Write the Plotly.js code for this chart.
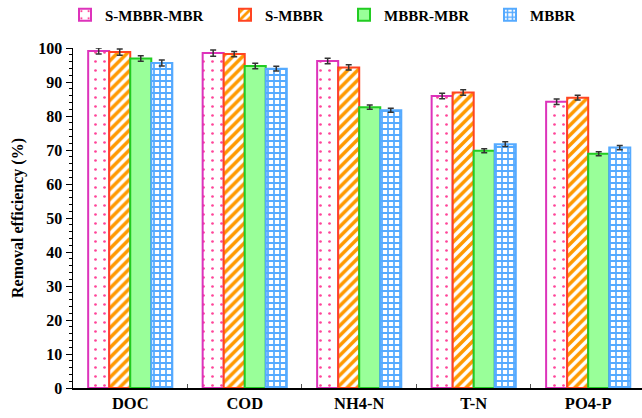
<!DOCTYPE html>
<html>
<head>
<meta charset="utf-8">
<script src="https://cdn.plot.ly/plotly-3.0.1.min.js"></script>
<style>html,body{margin:0;padding:0;background:#fff;}#chart{width:642px;height:418px;}</style>
</head>
<body>
<div id="chart"></div>
<script>
var categories = ["DOC", "COD", "NH4-N", "T-N", "PO4-P"];
var seriesNames = ["S-MBBR-MBR", "S-MBBR", "MBBR-MBR", "MBBR"];
var sMbbrMbr = [99.1, 98.5, 96.2, 85.9, 84.2];
var sMbbr    = [98.8, 98.2, 94.3, 86.9, 85.4];
var mbbrMbr  = [96.9, 94.7, 82.6, 69.8, 68.9];
var mbbr     = [95.6, 93.9, 81.7, 71.7, 70.7];
var errSMbbrMbr = [0.9, 0.9, 0.8, 0.8, 0.8];
var errSMbbr    = [0.9, 0.8, 0.8, 0.8, 0.7];
var errMbbrMbr  = [0.8, 0.8, 0.6, 0.6, 0.6];
var errMbbr     = [0.9, 0.7, 0.6, 0.7, 0.6];

var font = "Times New Roman, Liberation Serif, serif";
var styles = [
  {line: "#dd33bb", pattern: {shape: ".", fgcolor: "#ff4499", bgcolor: "#ffffff", size: 9, solidity: 0.07}, color: "#ffffff"},
  {line: "#ff4422", pattern: {shape: "/", fgcolor: "#ff9900", bgcolor: "#ffffff", size: 7, solidity: 0.5}, color: "#ffffff"},
  {line: "#22cc22", pattern: {shape: ""}, color: "#99ff99"},
  {line: "#55aaff", pattern: {shape: "+", fgcolor: "#55aaff", bgcolor: "#ffffff", size: 6, solidity: 0.5}, color: "#ffffff"}
];
var legendIds = ["legend", "legend2", "legend3", "legend4"];
var legendX = [65, 225, 344, 490];
var vals = [sMbbrMbr, sMbbr, mbbrMbr, mbbr];
var errs = [errSMbbrMbr, errSMbbr, errMbbrMbr, errMbbr];

var data = vals.map(function(v, i) {
  return {
    type: "bar",
    name: seriesNames[i],
    legend: legendIds[i],
    x: categories,
    y: v,
    error_y: {type: "data", array: errs[i], visible: true, color: "#333333", thickness: 1.5, width: 3},
    marker: {color: styles[i].color, line: {color: styles[i].line, width: 2}, pattern: styles[i].pattern}
  };
});

var layout = {
  width: 642, height: 418,
  margin: {l: 73, r: 0, t: 48, b: 30},
  paper_bgcolor: "#ffffff", plot_bgcolor: "#ffffff",
  barmode: "group", bargap: 0.265, bargroupgap: 0,
  font: {family: font, color: "#000000"},
  showlegend: true,
  xaxis: {
    type: "category", range: [-0.5, 4.47],
    showline: true, linecolor: "#000", linewidth: 1.5,
    ticks: "inside", tickson: "boundaries", ticklen: 4, tickcolor: "#555",
    showgrid: false, zeroline: false,
    tickfont: {family: font, size: 16.5, color: "#000", weight: "bold"}
  },
  yaxis: {
    range: [0, 100], dtick: 10,
    showline: true, linecolor: "#000", linewidth: 1.5,
    ticks: "outside", ticklen: 6, tickcolor: "#000",
    minor: {dtick: 2, ticks: "outside", ticklen: 3, tickcolor: "#000"},
    showgrid: false, zeroline: false,
    tickfont: {family: font, size: 16, color: "#000", weight: "bold"},
    title: {text: "Removal efficiency (%)", font: {family: font, size: 16, color: "#000", weight: "bold"}, standoff: 10}
  }
};
legendIds.forEach(function(id, i) {
  layout[id] = {orientation: "h", xref: "container", x: legendX[i] / 642, xanchor: "left",
    yref: "container", y: 1 - 15 / 418, yanchor: "middle",
    font: {family: font, size: 15, color: "#000", weight: "bold"}, itemwidth: 30,
    bgcolor: "rgba(0,0,0,0)"};
});
Plotly.newPlot("chart", data, layout, {displayModeBar: false, staticPlot: true});
</script>
</body>
</html>
